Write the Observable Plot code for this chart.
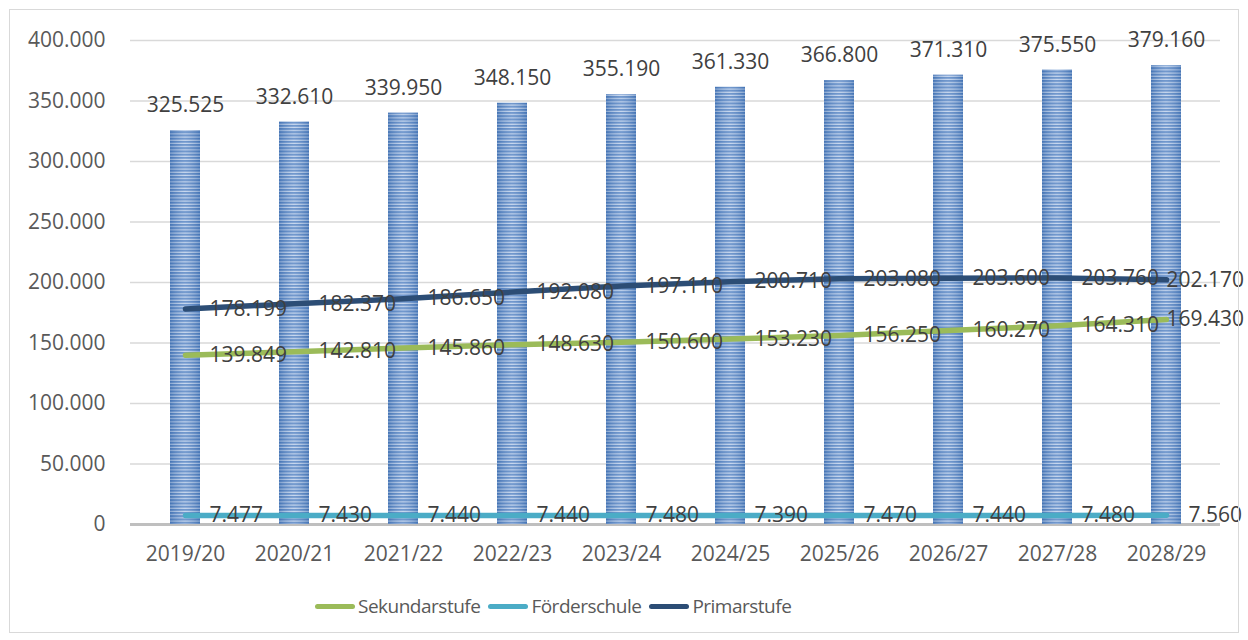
<!DOCTYPE html>
<html>
<head>
<meta charset="utf-8">
<script src="https://cdn.jsdelivr.net/npm/d3@7"></script>
<script src="https://cdn.jsdelivr.net/npm/@observablehq/plot@0.6"></script>
<style>
  html, body { margin: 0; padding: 0; background: #fff; }
  body { width: 1248px; height: 640px; position: relative; overflow: hidden; font-family: "Open Sans", sans-serif; }
  #frame { position: absolute; left: 9px; top: 9px; width: 1228px; height: 622px; border: 1.5px solid #d9d9d9; pointer-events: none; }
  #chart { position: absolute; left: 0; top: 0; }
  #legend { position: absolute; left: 315px; top: 593px; display: flex; gap: 8px; align-items: center; font-size: 19px; letter-spacing: -0.5px; color: #595959; }
  .item { display: flex; align-items: center; gap: 3px; }
  .swatch { width: 40px; height: 5px; border-radius: 3px; }
</style>
</head>
<body>
<div id="chart"></div>
<div id="legend"></div>
<div id="frame"></div>
<script>
const categories = ["2019/20","2020/21","2021/22","2022/23","2023/24","2024/25","2025/26","2026/27","2027/28","2028/29"];
const gesamt = [325525, 332610, 339950, 348150, 355190, 361330, 366800, 371310, 375550, 379160];
const primarstufe = [178199, 182370, 186650, 192080, 197110, 200710, 203080, 203600, 203760, 202170];
const sekundarstufe = [139849, 142810, 145860, 148630, 150600, 153230, 156250, 160270, 164310, 169430];
const foerderschule = [7477, 7430, 7440, 7440, 7480, 7390, 7470, 7440, 7480, 7560];
const yTicks = [0, 50000, 100000, 150000, 200000, 250000, 300000, 350000, 400000];

const series = [
  {name: "Sekundarstufe", values: sekundarstufe, color: "#9bbb59", lastDx: 0},
  {name: "Förderschule", values: foerderschule, color: "#4bacc6", lastDx: 22},
  {name: "Primarstufe", values: primarstufe, color: "#2c4d75", lastDx: 0}
];

const de = d3.formatLocale({decimal: ",", thousands: ".", grouping: [3], currency: ["", " €"]});
const fmt = de.format(",");

const bars = categories.map((c, i) => ({cat: c, value: gesamt[i]}));
const points = series.flatMap(s => s.values.map((v, i) => ({cat: categories[i], value: v, name: s.name, last: i === categories.length - 1})));

const marks = [
  Plot.gridY(yTicks, {stroke: "#d9d9d9", strokeOpacity: 1, strokeWidth: 1.3}),
  Plot.ruleY([0], {stroke: "#bfbfbf", strokeWidth: 3}),
  Plot.barY(bars, {x: "cat", y: "value", fill: "url(#stripes)"}),
  Plot.barY(bars, {x: "cat", y: "value", fill: "url(#shade)"}),
  Plot.text(bars, {x: "cat", y: "value", text: d => fmt(d.value), dy: -25, fill: "#404040", fontSize: 21, textAnchor: "middle"})
];
for (const s of series) {
  marks.push(Plot.line(points.filter(d => d.name === s.name), {x: "cat", y: "value", stroke: s.color, strokeWidth: 5.5, strokeLinecap: "round"}));
}
for (const s of series) {
  const pts = points.filter(d => d.name === s.name);
  marks.push(Plot.text(pts.filter(d => !d.last), {x: "cat", y: "value", text: d => fmt(d.value), dx: 24, textAnchor: "start", fill: "#404040", fontSize: 21}));
  marks.push(Plot.text(pts.filter(d => d.last), {x: "cat", y: "value", text: d => fmt(d.value), dx: s.lastDx, textAnchor: "start", fill: "#404040", fontSize: 21}));
}

const svg = Plot.plot({
  width: 1248,
  height: 580,
  marginLeft: 130,
  marginRight: 28,
  marginTop: 40,
  marginBottom: 56,
  style: {fontFamily: "Open Sans, sans-serif", background: "transparent", overflow: "visible"},
  x: {domain: categories, paddingInner: 0.725, paddingOuter: 0.3625, label: null, tickSize: 0, tickPadding: 22},
  y: {domain: [0, 400000], ticks: yTicks, tickFormat: fmt, label: null, tickSize: 0, tickPadding: 25},
  marks: [
    ...marks,
    Plot.axisX({tickSize: 0, tickPadding: 22, fontSize: 21, fill: "#595959", label: null}),
    Plot.axisY({ticks: yTicks, tickFormat: fmt, tickSize: 0, tickPadding: 25, fontSize: 21, fill: "#595959", label: null})
  ]
});

d3.select(svg).insert("defs", ":first-child").html(`
  <pattern id="stripes" patternUnits="userSpaceOnUse" width="4" height="3.2">
    <rect x="0" y="0" width="4" height="3.2" fill="#4f7fc1"/>
    <rect x="0" y="2.1" width="4" height="1.1" fill="#c3d5ee"/>
  </pattern>
  <linearGradient id="shade" x1="0" x2="1" y1="0" y2="0">
    <stop offset="0" stop-color="#2f5f9e" stop-opacity="0.35"/>
    <stop offset="0.5" stop-color="#ffffff" stop-opacity="0.2"/>
    <stop offset="1" stop-color="#2f5f9e" stop-opacity="0.35"/>
  </linearGradient>
`);

document.getElementById("chart").appendChild(svg);

const legend = document.getElementById("legend");
for (const s of series) {
  const item = document.createElement("div");
  item.className = "item";
  const sw = document.createElement("span");
  sw.className = "swatch";
  sw.style.background = s.color;
  const t = document.createElement("span");
  t.textContent = s.name;
  item.appendChild(sw);
  item.appendChild(t);
  legend.appendChild(item);
}
</script>
</body>
</html>
